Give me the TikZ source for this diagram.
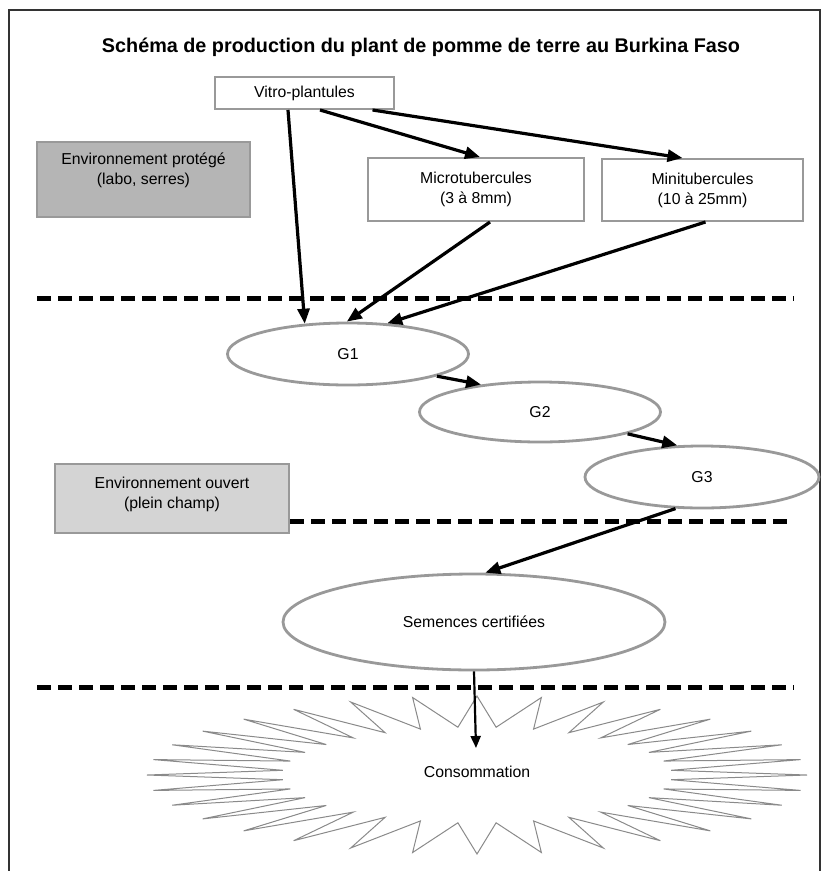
\documentclass[tikz,border=0pt]{standalone}
\usepackage{fontspec}
\setmainfont{Liberation Sans}
\usetikzlibrary{arrows.meta,shapes.geometric}

\definecolor{trait}{gray}{0.6}
\definecolor{fonce}{gray}{0.71}
\definecolor{clair}{gray}{0.83}

\tikzset{
  boite/.style={draw=trait, line width=2pt, fill=white, align=center, inner sep=0pt},
  zone/.style={draw=trait, line width=1.2pt, inner sep=0pt},
  generation/.style={ellipse, draw=trait, line width=2.8pt, inner sep=0pt},
  fleche/.style={line width=3.2pt, -{Triangle[length=15pt,width=12pt]}},
  fleche fine/.style={line width=2.2pt, -{Triangle[length=12pt,width=10pt]}},
  limite/.style={line width=5pt, dash pattern=on 14pt off 7pt},
  eclat/.style={draw=trait!90!black, line width=1pt}
}

\begin{document}
\begin{tikzpicture}[x=1pt, y=-1pt, font=\fontsize{15.8}{20}\selectfont]
\useasboundingbox (0,0) rectangle (822,871);
\draw[line width=1.5pt, black!80] (9,871) -- (9,10) -- (820,10) -- (820,871);

\node[font=\fontsize{19.8}{24}\selectfont\bfseries] (titre) at (421,47)
  {Schéma de production du plant de pomme de terre au Burkina Faso};

% environnement protege
\node[boite, minimum width=179pt, minimum height=32pt] (vitro) at (304.5,93) {Vitro-plantules};
\node[zone, fill=fonce, minimum width=213pt, minimum height=75pt] (protege) at (143.5,179.5) {};
\node[align=center] (protegetxt) at (143.5,170) {Environnement protégé\\(labo, serres)};
\node[boite, minimum width=216pt, minimum height=63pt] (micro) at (476,189.5) {Microtubercules\\(3 à 8mm)};
\node[boite, minimum width=201pt, minimum height=62pt] (mini) at (702.5,190) {Minitubercules\\(10 à 25mm)};

\draw[limite] (37,298) -- (794,298);

% generations au champ
\node[generation, minimum width=241pt, minimum height=62pt] (G1) at (348,354) {G1};
\node[generation, minimum width=241pt, minimum height=60pt] (G2) at (540,412) {G2};
\node[generation, minimum width=234pt, minimum height=62pt] (G3) at (702,477) {G3};
\node[zone, fill=clair, minimum width=234pt, minimum height=69pt] (ouvert) at (172,498.5) {};
\node[align=center] (ouverttxt) at (172,494) {Environnement ouvert\\(plein champ)};

\draw[limite] (290,521) -- (790,521);

\node[generation, minimum width=382pt, minimum height=96pt] (semences) at (474,622) {Semences certifiées};

\draw[limite] (37,687) -- (794,687);

% eclat: 32 pointes
\draw[eclat] (807,775) \foreach \i in {1,...,32} {
  -- ({477+195*cos(\i*11.25-5.625)},{775+48*sin(\i*11.25-5.625)})
  -- ({477+330*cos(\i*11.25)},{775+79*sin(\i*11.25)}) } -- cycle;
\node (conso) at (477,772) {Consommation};
\coordinate (pointe) at (476,748);

\draw[fleche] ([xshift=-16.5pt]vitro.south) -- (G1.145);
\draw[fleche] ([xshift=15.5pt]vitro.south) -- ([xshift=4pt]micro.north);
\draw[fleche] ([xshift=68pt]vitro.south) -- ([xshift=-20pt]mini.north);
\draw[fleche] ([xshift=14pt]micro.south) -- (G1.92);
\draw[fleche] ([xshift=3pt]mini.south) -- (G1.38);
\draw[fleche] (G1.-14) -- (G2.155);
\draw[fleche] (G2.-14) -- (G3.128);
\draw[fleche] (G3.230) -- (semences.77);
\draw[fleche fine] (semences.south) -- (pointe);
\end{tikzpicture}
\end{document}
